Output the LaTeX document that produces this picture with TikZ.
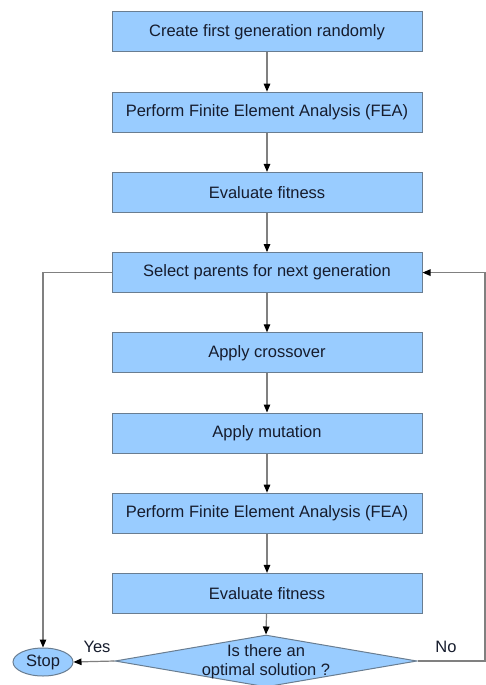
\documentclass[tikz,border=0pt]{standalone}
\usepackage{fontspec}
\setmainfont{Liberation Sans}
\usepackage{xcolor}
\usetikzlibrary{arrows.meta,shapes.geometric}
\definecolor{boxfill}{RGB}{153,204,255}
\definecolor{boxline}{RGB}{105,125,145}
\definecolor{txt}{RGB}{22,28,45}
\begin{document}
\begin{tikzpicture}[x=1pt,y=1pt]
\tikzstyle{every node}+=[inner sep=0pt,font=\fontsize{16.5}{19}\selectfont,text=txt]
\tikzstyle{stepbox}=[draw=boxline,fill=boxfill,line width=1pt,minimum width=310pt,minimum height=40pt]
\tikzstyle{flow}=[draw=gray,line width=1.2pt,-{Triangle[length=8pt,width=6.5pt,black]}]
\useasboundingbox (0,0) rectangle (486,-685);
\node [stepbox] (create) at (267,-32) {Create first generation randomly};
\node [stepbox] (fea1) at (267,-112.2) {Perform Finite Element Analysis (FEA)};
\node [stepbox] (fit1) at (267,-192.4) {Evaluate fitness};
\node [stepbox] (select) at (267,-272.6) {Select parents for next generation};
\node [stepbox] (cross) at (267,-352.8) {Apply crossover};
\node [stepbox] (mutate) at (267,-433) {Apply mutation};
\node [stepbox] (fea2) at (267,-513.2) {Perform Finite Element Analysis (FEA)};
\node [stepbox] (fit2) at (267,-593.4) {Evaluate fitness};
\node [diamond,draw=boxline,fill=boxfill,line width=1pt,minimum width=302pt,minimum height=52pt] (optimal) at (266,-661) {};
\node [align=center] (question) at (266,-662) {Is there an\\optimal solution ?};
\node [ellipse,draw=boxline,fill=boxfill,line width=1pt,minimum width=60pt,minimum height=28pt] (stop) at (43,-662) {Stop};
\coordinate (back) at (485,-661);
\draw (97,-647) node (yes) {Yes};
\draw (446,-647) node (no) {No};
\draw [flow] (create) -- (fea1);
\draw [flow] (fea1) -- (fit1);
\draw [flow] (fit1) -- (select);
\draw [flow] (select) -- (cross);
\draw [flow] (cross) -- (mutate);
\draw [flow] (mutate) -- (fea2);
\draw [flow] (fea2) -- (fit2);
\draw [flow] (fit2) -- (optimal.north);
\draw [flow] (optimal.west) -- (stop.east);
\draw [flow] (select.west) -| (stop.north);
\draw [flow] (optimal.east) -- (back) |- (select.east);
\end{tikzpicture}
\end{document}
